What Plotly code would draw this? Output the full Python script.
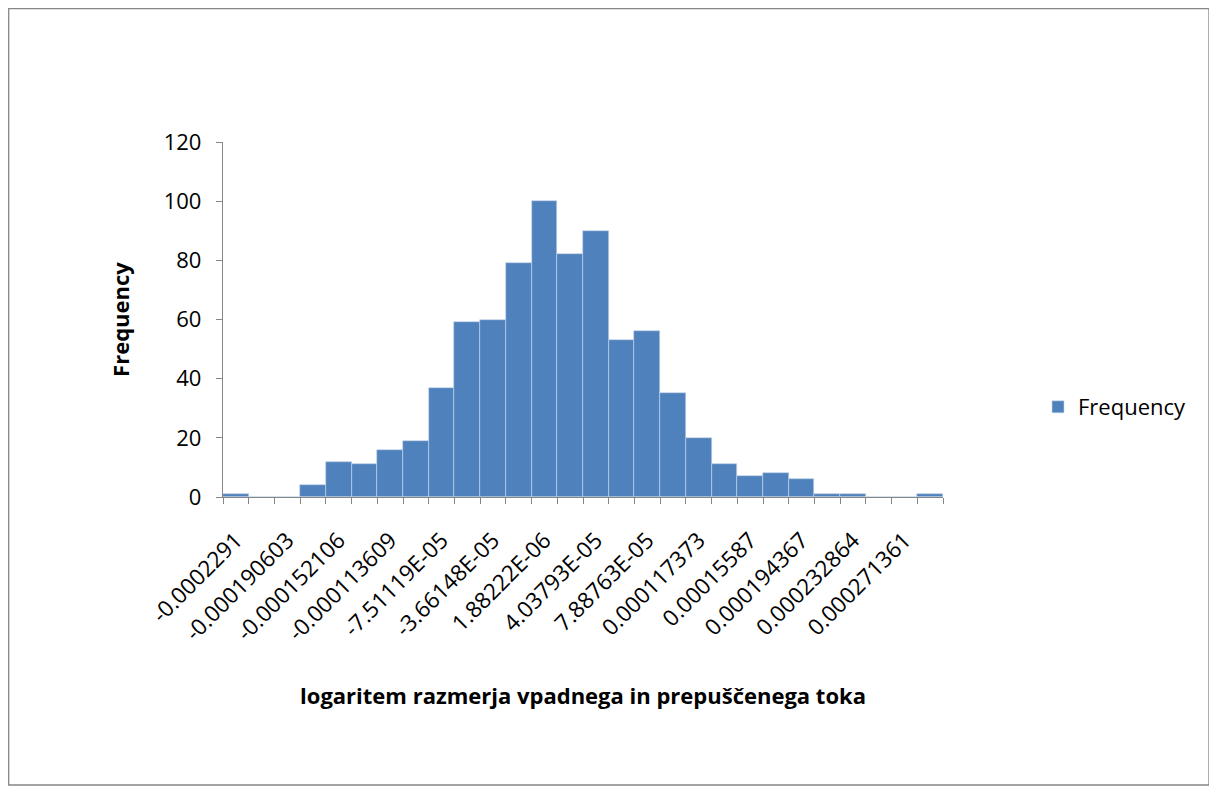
import plotly.graph_objects as go

counts = [1, 0, 0, 4, 12, 11, 16, 19, 37, 59, 60, 79, 100, 82, 90, 53, 56, 35, 20, 11, 7, 8, 6, 1, 1, 0, 0, 1]
tick_labels = ["-0.0002291", "-0.000190603", "-0.000152106", "-0.000113609", "-7.51119E-05",
               "-3.66148E-05", "1.88222E-06", "4.03793E-05", "7.88763E-05", "0.000117373",
               "0.00015587", "0.000194367", "0.000232864", "0.000271361"]
series_name = "Frequency"
x_title = "logaritem razmerja vpadnega in prepuščenega toka"
y_title = "Frequency"

bins = list(range(len(counts)))
tick_positions = bins[::2]

W, H = 1217, 794
L, R, T, B = 215, 282, 134, 305
pw, ph = W - L - R, H - T - B

font = "Open Sans, Liberation Sans, sans-serif"
fs = 22

fig = go.Figure()
fig.add_trace(go.Bar(x=bins, y=counts, name=series_name,
                     marker=dict(color="#4F81BD", line=dict(width=0.6, color="#C6D6EA")), width=1.0))

fig.update_layout(
    width=W, height=H,
    margin=dict(l=L, r=R, t=T, b=B),
    plot_bgcolor="white", paper_bgcolor="white",
    bargap=0,
    showlegend=True,
    legend=dict(x=(1030 - L) / pw, y=(H - B - 399) / ph, xanchor="left", yanchor="middle",
                font=dict(family=font, size=fs, color="#000000"), itemwidth=30),
    font=dict(family=font, color="#000000"),
)
fig.update_xaxes(
    range=[-0.5, len(counts) - 0.5],
    tickmode="array", tickvals=tick_positions, ticktext=tick_labels,
    tickangle=-45, ticks="", tickfont=dict(family=font, size=22.5, color="#000000"),
    ticklabelstandoff=20,
    showline=True, linecolor="#868686", linewidth=1.3, showgrid=False, zeroline=False,
    minor=dict(ticks="outside", tick0=-0.5, dtick=1, ticklen=6, tickcolor="#868686", tickwidth=1.3, showgrid=False),
    title=dict(text="<b>" + x_title + "</b>", font=dict(family=font, size=fs, color="#000000"), standoff=42),
)
fig.update_yaxes(
    range=[0, 120], dtick=20, ticks="outside", ticklen=6, tickcolor="#868686", tickwidth=1.3,
    ticklabelstandoff=10,
    showline=True, linecolor="#868686", linewidth=1.3, showgrid=False, zeroline=False,
    tickfont=dict(family=font, size=fs, color="#000000"),
    title=dict(text="<b>" + y_title + "</b>", font=dict(family=font, size=fs, color="#000000"), standoff=28),
)
fig.add_shape(type="rect", xref="paper", yref="paper",
              x0=(0.7 - L) / pw, x1=(1201 - L) / pw, y0=(H - B - 777) / ph, y1=(H - B - 0.7) / ph,
              line=dict(color="#868686", width=1.3), fillcolor="rgba(0,0,0,0)", layer="below")
fig.write_html("out.html")
